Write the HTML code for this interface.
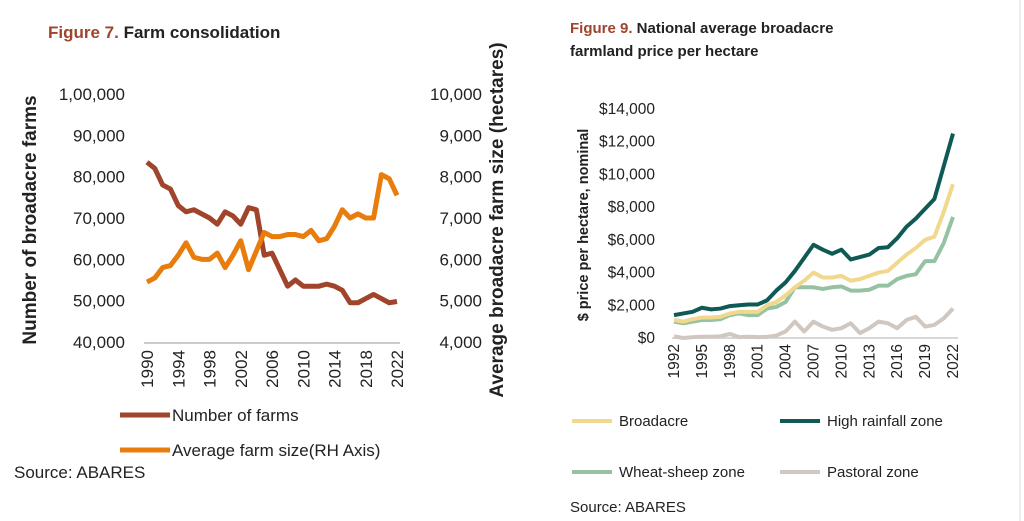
<!DOCTYPE html>
<html><head><meta charset="utf-8"><style>
body{margin:0;background:#fff;width:1024px;height:521px;overflow:hidden;font-family:"Liberation Sans",sans-serif}
</style></head><body>
<svg id="s" width="1024" height="521" style="position:absolute;left:0;top:0">
<line x1="1020" y1="0" x2="1020" y2="521" stroke="#ddd"/>
<text x="48" y="38" font-size="17" font-weight="bold"><tspan fill="#a0442c">Figure 7.</tspan><tspan fill="#222"> Farm consolidation</tspan></text>
<text x="570" y="33" font-size="15" font-weight="bold" fill="#222"><tspan fill="#a0442c">Figure 9.</tspan> National average broadacre</text>
<text x="570" y="56" font-size="15" font-weight="bold" fill="#222">farmland price per hectare</text>
<text transform="translate(36,220) rotate(-90)" text-anchor="middle" font-size="19" font-weight="bold" fill="#222">Number of broadacre farms</text>
<text transform="translate(503,220) rotate(-90)" text-anchor="middle" font-size="19" font-weight="bold" fill="#222">Average broadacre farm size (hectares)</text>
<text transform="translate(588,225) rotate(-90)" text-anchor="middle" font-size="14.5" font-weight="bold" fill="#222">$ price per hectare, nominal</text>
<text x="14" y="478" font-size="17" fill="#222">Source: ABARES</text>
<text x="570" y="512" font-size="15" fill="#222">Source: ABARES</text>
<g id="g7"></g><g id="g9"></g>
</svg>
<script>
const years7=[];for(let y=1990;y<=2022;y++)years7.push(y);
const farms=[83500,82000,78000,77000,73000,71500,72000,71000,70000,68500,71500,70500,68500,72500,72000,61000,61500,57500,53500,55000,53500,53500,53500,54000,53500,52500,49500,49500,50500,51500,50500,49500,49800];
const farmSize=[5450,5550,5800,5850,6100,6400,6050,6000,6000,6150,5800,6100,6450,5750,6200,6650,6550,6550,6600,6600,6550,6700,6450,6500,6800,7200,7000,7100,7000,7000,8050,7950,7550];
const leftTicks=["40,000","50,000","60,000","70,000","80,000","90,000","1,00,000"];
const rightTicks=["4,000","5,000","6,000","7,000","8,000","9,000","10,000"];
const years9=[];for(let y=1992;y<=2022;y++)years9.push(y);
const broadacre=[1100,1000,1150,1250,1250,1300,1500,1600,1600,1600,2000,2200,2600,3100,3500,4000,3700,3700,3800,3500,3600,3800,4000,4100,4600,5100,5500,6000,6200,7700,9400];
const highRain=[1400,1500,1600,1850,1750,1800,1950,2000,2050,2050,2300,2900,3400,4100,4900,5700,5400,5150,5400,4800,4950,5100,5500,5550,6100,6800,7300,7900,8500,10500,12500];
const wheatSheep=[1000,900,1000,1100,1100,1150,1400,1500,1400,1400,1800,1900,2200,3100,3100,3100,3000,3100,3150,2900,2900,2950,3200,3200,3600,3800,3900,4700,4700,5800,7400];
const pastoral=[100,0,50,80,80,100,250,50,80,50,70,150,400,1000,400,1000,700,500,600,900,300,600,1000,900,600,1100,1300,700,800,1200,1800];
const priceTicks=["$0","$2,000","$4,000","$6,000","$8,000","$10,000","$12,000","$14,000"];
const NS='http://www.w3.org/2000/svg';
function mk(p,t,a){const e=document.createElementNS(NS,t);for(const k in a)e.setAttribute(k,a[k]);p.appendChild(e);return e;}
// Fig 7
const g7=document.getElementById('g7');
const x7=y=>147+(y-1990)/32*250;
const yL=v=>342-(v-40000)/60000*248;
const yR=v=>342-(v-4000)/6000*248;
mk(g7,'line',{x1:144,y1:343,x2:400,y2:343,stroke:'#ccc','stroke-width':2});
leftTicks.forEach((t,i)=>{const e=mk(g7,'text',{x:125,y:342-i*41.33+6,'text-anchor':'end','font-size':17,fill:'#222'});e.textContent=t;});
rightTicks.forEach((t,i)=>{const e=mk(g7,'text',{x:482,y:342-i*41.33+6,'text-anchor':'end','font-size':17,fill:'#222'});e.textContent=t;});
years7.forEach(y=>{if((y-1990)%4)return;const e=mk(g7,'text',{transform:`translate(${x7(y)+6},350) rotate(-90)`,'text-anchor':'end','font-size':17,fill:'#222'});e.textContent=y;});
let l1=mk(g7,'polyline',{points:farms.map((v,i)=>x7(years7[i])+','+yL(v)).join(' '),fill:'none',stroke:'#a0442c','stroke-width':5,'stroke-linejoin':'round'});

let l2=mk(g7,'polyline',{points:farmSize.map((v,i)=>x7(years7[i])+','+yR(v)).join(' '),fill:'none',stroke:'#e87c0c','stroke-width':5,'stroke-linejoin':'round'});

[['#a0442c','Number of farms',421],['#e87c0c','Average farm size(RH Axis)',456]].forEach(([c,t,y])=>{mk(g7,'line',{x1:120,y1:y-6,x2:170,y2:y-6,stroke:c,'stroke-width':5});const e=mk(g7,'text',{x:172,y:y,'font-size':17,fill:'#222'});e.textContent=t;});
// Fig 9
const g9=document.getElementById('g9');
const x9=y=>674+(y-1992)/30*279;
const y9=v=>338-v/14000*229;
mk(g9,'line',{x1:672,y1:338,x2:958,y2:338,stroke:'#ccc','stroke-width':1.5});
priceTicks.forEach((t,i)=>{const e=mk(g9,'text',{x:655,y:y9(i*2000)+5,'text-anchor':'end','font-size':15.5,fill:'#222'});e.textContent=t;});
years9.forEach(y=>{if((y-1992)%3)return;const e=mk(g9,'text',{transform:`translate(${x9(y)+5},344) rotate(-90)`,'text-anchor':'end','font-size':15.5,fill:'#222'});e.textContent=y;});
[[pastoral,'#d0c8c0','pastoral-line'],[wheatSheep,'#94c2a2','wheat-sheep-line'],[broadacre,'#f0d88c','broadacre-line'],[highRain,'#0f5a55','high-rainfall-line']].forEach(([d,c,n])=>{const e=mk(g9,'polyline',{points:d.map((v,i)=>x9(years9[i])+','+y9(v)).join(' '),fill:'none',stroke:c,'stroke-width':4,'stroke-linejoin':'round'});});
[['#f0d88c','Broadacre',572,426],['#0f5a55','High rainfall zone',780,426],['#94c2a2','Wheat-sheep zone',572,477],['#d0c8c0','Pastoral zone',780,477]].forEach(([c,t,x,y])=>{mk(g9,'line',{x1:x,y1:y-5,x2:x+40,y2:y-5,stroke:c,'stroke-width':4});const e=mk(g9,'text',{x:x+47,y:y,'font-size':15,fill:'#222'});e.textContent=t;});
</script>
</body></html>
